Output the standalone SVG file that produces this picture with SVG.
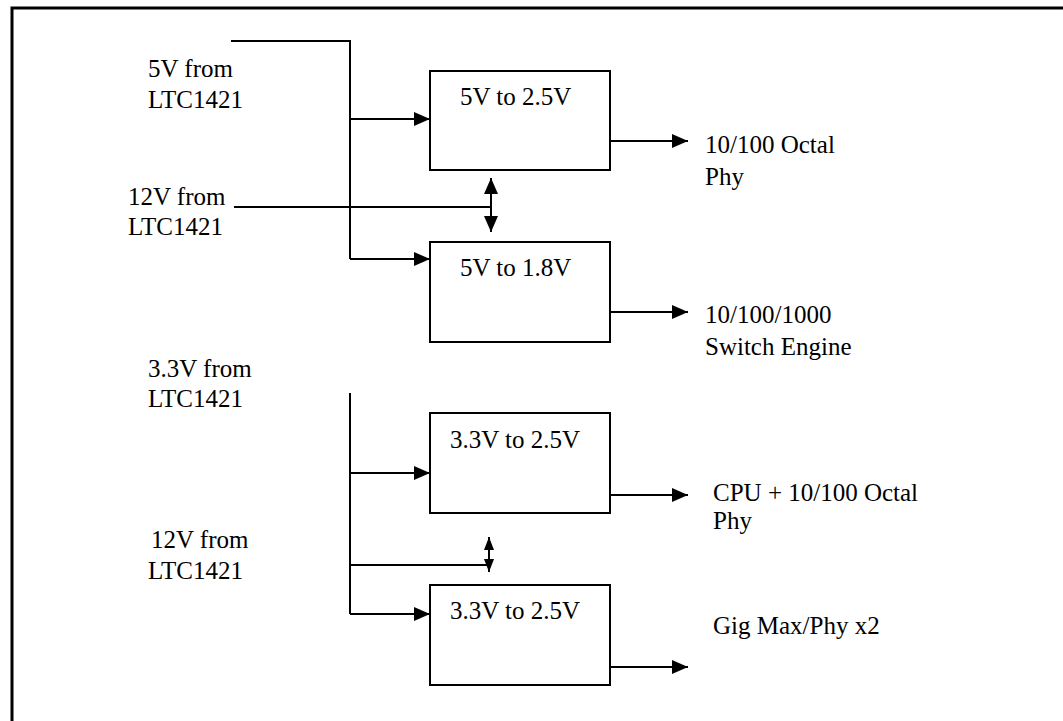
<svg xmlns="http://www.w3.org/2000/svg" width="1063" height="721" viewBox="0 0 1063 721">
<style>
.t{font-family:'Liberation Serif','DejaVu Serif',serif;font-size:25px;fill:#000}
.box{fill:#fff;stroke:#000;stroke-width:2}
.ln{fill:none;stroke:#000;stroke-width:2}
</style>
<defs>
<marker id="ah" markerUnits="userSpaceOnUse" markerWidth="17" markerHeight="15" refX="16" refY="7" orient="auto-start-reverse" viewBox="0 0 17 15"><path d="M0,0 L16,7 L0,14 z" fill="#000"/></marker>
<marker id="as" markerUnits="userSpaceOnUse" markerWidth="14" markerHeight="11" refX="13" refY="5" orient="auto-start-reverse" viewBox="0 0 14 11"><path d="M0,0 L13,5 L0,10 z" fill="#000"/></marker>
</defs>
<rect width="1063" height="721" fill="#fff"/>
<path d="M12,730 V8 H1070" fill="none" stroke="#000" stroke-width="3"/>
<g id="connectors">
<path class="ln" d="M231,41 H350 V259"/>
<path class="ln" d="M350,119 H430" marker-end="url(#ah)"/>
<path class="ln" d="M350,259 H430" marker-end="url(#ah)"/>
<path class="ln" d="M234,207 H491"/>
<path class="ln" d="M491,178 V232" marker-start="url(#ah)" marker-end="url(#ah)"/>
<path class="ln" d="M491,196 V214" stroke-width="5"/>
<path class="ln" d="M610,141 H688" marker-end="url(#ah)"/>
<path class="ln" d="M610,312 H688" marker-end="url(#ah)"/>
<path class="ln" d="M350,393 V614"/>
<path class="ln" d="M350,473 H430" marker-end="url(#ah)"/>
<path class="ln" d="M350,614 H430" marker-end="url(#ah)"/>
<path class="ln" d="M350,565 H489"/>
<path class="ln" d="M489,537 V572" marker-start="url(#as)" marker-end="url(#as)"/>
<path class="ln" d="M610,495 H688" marker-end="url(#ah)"/>
<path class="ln" d="M610,667 H688" marker-end="url(#ah)"/>
</g>
<g id="box1"><rect class="box" x="430" y="71" width="180" height="99"/><text class="t" x="460" y="105">5V to 2.5V</text></g>
<g id="box2"><rect class="box" x="430" y="242" width="180" height="100"/><text class="t" x="460" y="276">5V to 1.8V</text></g>
<g id="box3"><rect class="box" x="430" y="413" width="180" height="100"/><text class="t" x="450" y="448">3.3V to 2.5V</text></g>
<g id="box4"><rect class="box" x="430" y="585" width="180" height="100"/><text class="t" x="450" y="619">3.3V to 2.5V</text></g>
<g id="in5v"><text class="t" x="148" y="77">5V from</text><text class="t" x="148" y="108">LTC1421</text></g>
<g id="in12v-a"><text class="t" x="128" y="205">12V from</text><text class="t" x="128" y="235">LTC1421</text></g>
<g id="in33v"><text class="t" x="148" y="377">3.3V from</text><text class="t" x="148" y="407">LTC1421</text></g>
<g id="in12v-b"><text class="t" x="151" y="548">12V from</text><text class="t" x="148" y="579">LTC1421</text></g>
<g id="out1"><text class="t" x="705" y="153">10/100 Octal</text><text class="t" x="705" y="185">Phy</text></g>
<g id="out2"><text class="t" x="705" y="323">10/100/1000</text><text class="t" x="705" y="355">Switch Engine</text></g>
<g id="out3"><text class="t" x="713" y="501">CPU + 10/100 Octal</text><text class="t" x="713" y="529">Phy</text></g>
<g id="out4"><text class="t" x="713" y="634">Gig Max/Phy x2</text></g>
</svg>
